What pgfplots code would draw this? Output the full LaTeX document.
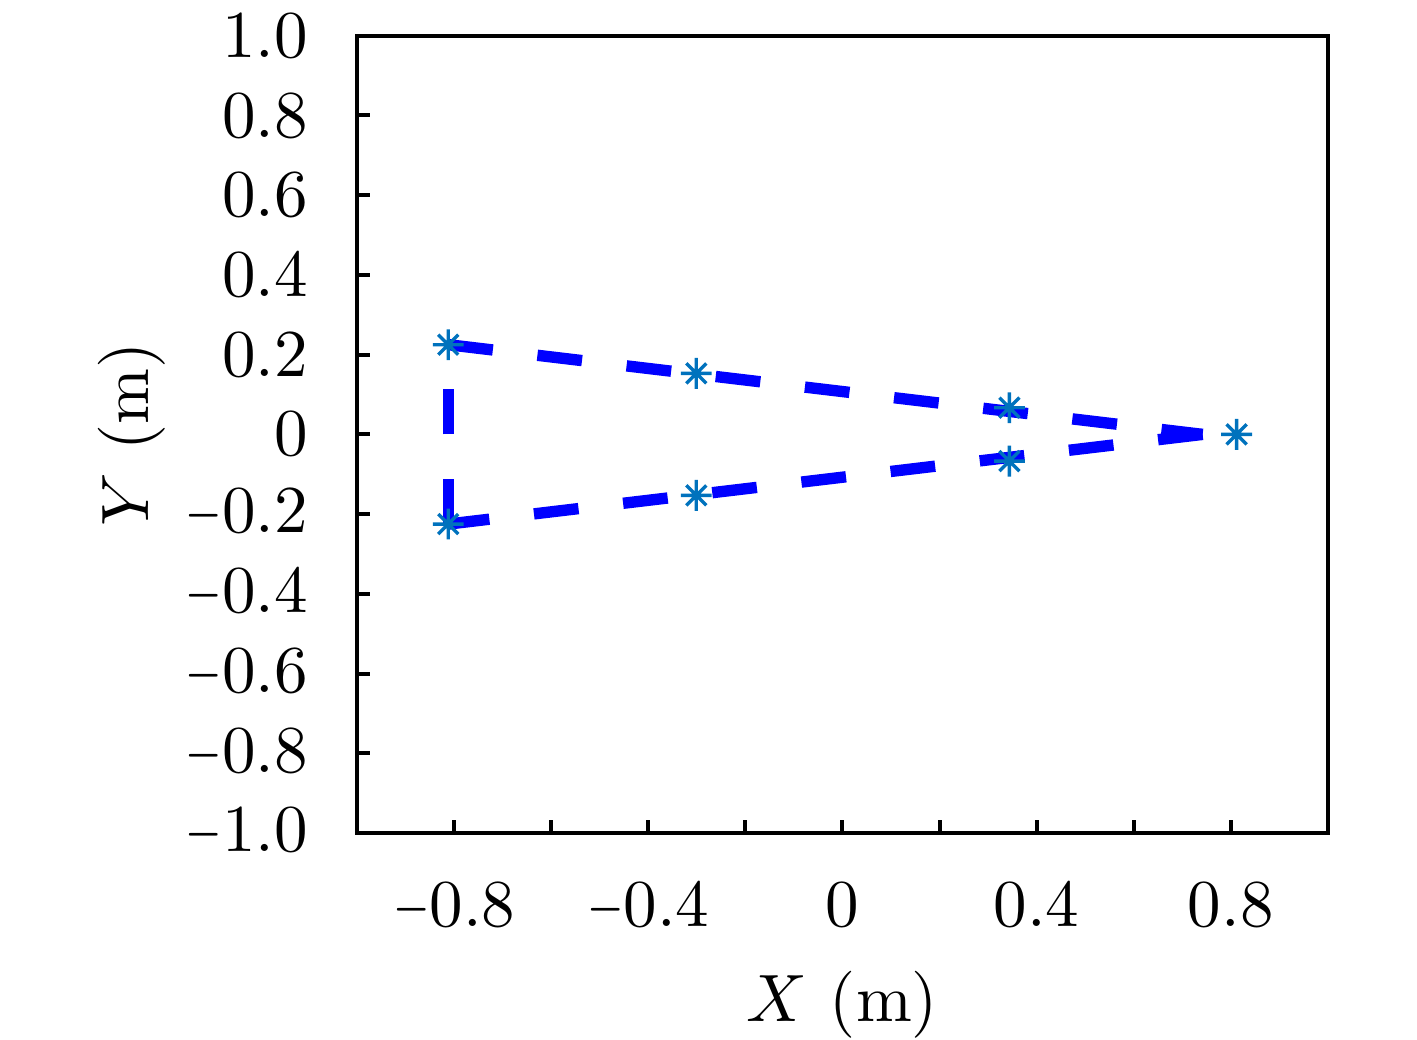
\documentclass[border=0pt]{standalone}
\usepackage{graphicx}
\usepackage{pgfplots}
\pgfplotsset{compat=1.18}
\definecolor{mblue}{rgb}{0,0.447,0.741}
\newcommand{\mn}{\scalebox{0.7}[1]{$-$}}
\pgfdeclareplotmark{mstar}{%
 \pgfpathmoveto{\pgfqpoint{-\pgfplotmarksize}{0pt}}\pgfpathlineto{\pgfqpoint{\pgfplotmarksize}{0pt}}%
 \pgfpathmoveto{\pgfqpoint{0pt}{-\pgfplotmarksize}}\pgfpathlineto{\pgfqpoint{0pt}{\pgfplotmarksize}}%
 \pgfpathmoveto{\pgfqpoint{-.65\pgfplotmarksize}{-.65\pgfplotmarksize}}\pgfpathlineto{\pgfqpoint{.65\pgfplotmarksize}{.65\pgfplotmarksize}}%
 \pgfpathmoveto{\pgfqpoint{-.65\pgfplotmarksize}{.65\pgfplotmarksize}}\pgfpathlineto{\pgfqpoint{.65\pgfplotmarksize}{-.65\pgfplotmarksize}}%
 \pgfusepathqstroke}
\begin{document}
\begin{tikzpicture}
\useasboundingbox (-53.28pt,-30.75pt) rectangle (158.2pt,124.33pt);
\begin{axis}[
  at={(0,0)}, anchor=south west,
  scale only axis,
  width=144.9pt, height=119.0pt,
  xmin=-1, xmax=1, ymin=-1, ymax=1,
  axis line style={line width=0.6pt},
  tick style={line width=0.6pt, black},
  major tick length=2pt,
  tick align=inside,
  xtick pos=bottom, ytick pos=left,
  xtick={-0.8,-0.6,-0.4,-0.2,0,0.2,0.4,0.6,0.8},
  xticklabels={\mn$0.8$,,\mn$0.4$,,$0$,,$0.4$,,$0.8$},
  ytick={-1,-0.8,-0.6,-0.4,-0.2,0,0.2,0.4,0.6,0.8,1},
  yticklabels={\mn$1.0$,\mn$0.8$,\mn$0.6$,\mn$0.4$,\mn$0.2$,$0$,$0.2$,$0.4$,$0.6$,$0.8$,$1.0$},
  xticklabel shift=4pt, yticklabel shift=3.8pt,
  xlabel={$X$~(m)}, ylabel={$Y$~(m)},
  xlabel style={at={(axis description cs:0.5,0)}, anchor=center, yshift=-25.6pt},
  ylabel style={at={(axis description cs:0,0.5)}, anchor=center, yshift=33.6pt},
]
\addplot[blue, line width=1.7pt, line cap=butt, dash pattern=on 6.7pt off 6.7pt, mark=none]
 coordinates {(-0.812,0.225) (0.742,0)};
\addplot[blue, line width=1.7pt, line cap=butt, dash pattern=on 6.7pt off 6.7pt, mark=none]
 coordinates {(0.742,0) (-0.812,-0.225)};
\addplot[blue, line width=1.7pt, line cap=butt, dash pattern=on 6.7pt off 6.7pt, mark=none]
 coordinates {(-0.812,-0.225) (-0.812,0.225)};
\addplot[only marks, mark=mstar, mark size=2.3pt, mark options={mblue, line width=0.5pt}]
 coordinates {(-0.812,0.225) (-0.301,0.153) (0.344,0.067) (0.812,0) (0.344,-0.067) (-0.301,-0.153) (-0.812,-0.225)};
\end{axis}
\end{tikzpicture}
\end{document}
